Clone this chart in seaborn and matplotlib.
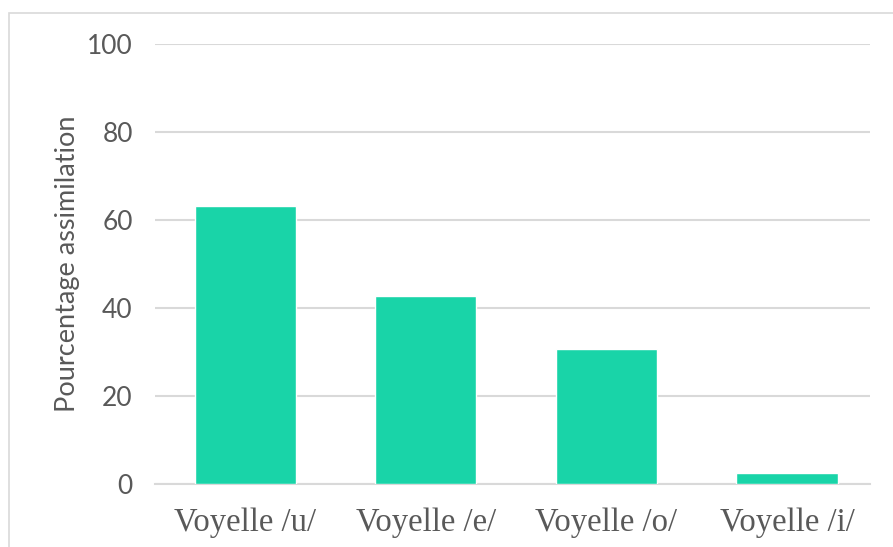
import matplotlib.pyplot as plt
import matplotlib.patches as patches
import pandas as pd
import seaborn as sns

categories = ["Voyelle /u/", "Voyelle /e/", "Voyelle /o/", "Voyelle /i/"]
values = [63.1, 42.7, 30.6, 2.4]
y_ticks = [0, 20, 40, 60, 80, 100]

df = pd.DataFrame({"voyelle": categories, "pct": values})

sns.set_style("white")
plt.rcParams["font.family"] = ["Lato", "DejaVu Sans"]

fig = plt.figure(figsize=(8.93, 5.47), dpi=100)
ax = fig.add_axes([155 / 893, 1 - 484 / 547, (870 - 155) / 893, (484 - 44) / 547])

# outer chart border (extends past the right/bottom of the picture)
fig.patches.append(patches.Rectangle((9 / 893, -0.1), 1.2, 1 - 13 / 547 + 0.1,
                                     transform=fig.transFigure, fill=False,
                                     edgecolor="#D9D9D9", linewidth=1.2))

sns.barplot(data=df, x="voyelle", y="pct", color="#19D4A8", width=0.56,
            saturation=1, ax=ax, zorder=3)

ax.set_ylim(0, 100)
ax.set_xlim(-0.5, 3.46)
ax.set_yticks(y_ticks)
ax.yaxis.grid(True, color="#D9D9D9", linewidth=1.5, zorder=0)
ax.set_axisbelow(True)
for s in ["top", "right", "left"]:
    ax.spines[s].set_visible(False)
ax.spines["bottom"].set_color("#D9D9D9")
ax.spines["bottom"].set_linewidth(1.5)

ax.tick_params(axis="y", length=0, pad=16, labelsize=19, labelcolor="#595959")
ax.tick_params(axis="x", length=0, pad=17, labelsize=23.5, labelcolor="#595959")
for lbl in ax.get_xticklabels():
    lbl.set_family("Liberation Serif")

ax.set_xlabel("")
ax.set_ylabel("Pourcentage assimilation", fontsize=19.5, color="#595959", labelpad=5)

fig.savefig("out.png", dpi=100)
